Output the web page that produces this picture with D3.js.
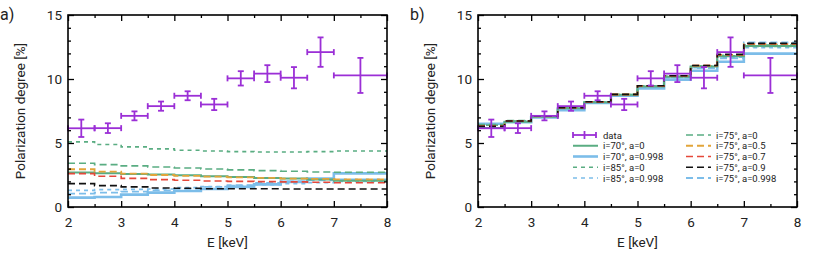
<!DOCTYPE html>
<html><head><meta charset="utf-8">
<script src="https://cdn.jsdelivr.net/npm/d3@7"></script>
<style>body{margin:0;background:#fff}svg{display:block;font-family:Roboto,"Noto Sans",sans-serif}</style>
</head><body><svg id="c" width="817" height="261"></svg>
<script>
const binEdges = [2,2.5,3,3.5,4,4.5,5,5.5,6,6.5,7,8];
const xTicks = [2,3,4,5,6,7,8];
const yTicks = [0,5,10,15];
const dataPD = [6.15,6.16,7.12,7.88,8.69,8.01,10.05,10.42,10.1,12.1,10.28];
const dataErr = [0.68,0.38,0.35,0.36,0.35,0.44,0.56,0.66,0.83,1.15,1.37];
const seriesNames = ["i=70°, a=0","i=70°, a=0.998","i=85°, a=0","i=85°, a=0.998","i=75°, a=0","i=75°, a=0.5","i=75°, a=0.7","i=75°, a=0.9","i=75°, a=0.998"];
// panel a: model polarization (no scattering fit)
const a_i70a0   = [2.69,2.63,2.58,2.53,2.48,2.40,2.35,2.27,2.22,2.14,2.06];
const a_i70a998 = [0.73,0.78,0.97,1.12,1.25,1.41,1.57,1.77,1.96,2.22,2.63];
const a_i85a0   = [5.09,4.88,4.70,4.54,4.43,4.38,4.33,4.30,4.30,4.33,4.37];
const a_i85a998 = [1.30,1.36,1.38,1.41,1.51,1.59,1.67,1.75,1.82,1.90,2.00];
const a_i75a0   = [3.42,3.31,3.21,3.13,3.05,2.97,2.90,2.84,2.79,2.74,2.71];
const a_i75a05  = [2.95,2.77,2.61,2.50,2.43,2.37,2.32,2.27,2.22,2.19,2.16];
const a_i75a07  = [2.61,2.40,2.24,2.14,2.09,2.03,2.00,1.98,1.96,1.93,1.90];
const a_i75a09  = [1.83,1.67,1.57,1.49,1.46,1.43,1.43,1.42,1.41,1.41,1.41];
const a_i75a998 = [1.04,1.12,1.20,1.30,1.41,1.57,1.70,1.88,2.00,2.09,2.15];
// panel b: fitted models
const b_i70a0   = [6.18,6.66,7.05,7.72,8.18,8.77,9.42,10.18,10.97,11.78,12.57];
const b_i70a998 = [6.50,6.62,7.00,7.57,8.12,8.70,9.26,9.95,10.65,11.35,11.98];
const b_i85a0   = [6.40,6.72,7.08,7.75,8.20,8.78,9.44,10.22,11.00,11.85,12.65];
const b_i85a998 = [6.45,6.70,7.05,7.68,8.17,8.75,9.38,10.12,10.88,11.70,12.45];
const b_i75a0   = [6.45,6.75,7.10,7.76,8.21,8.79,9.46,10.23,11.02,11.82,12.55];
const b_i75a05  = [6.33,6.73,7.09,7.76,8.21,8.79,9.46,10.24,11.04,11.88,12.72];
const b_i75a07  = [6.31,6.72,7.09,7.76,8.21,8.79,9.47,10.25,11.05,11.90,12.75];
const b_i75a09  = [6.30,6.72,7.09,7.76,8.22,8.80,9.47,10.25,11.06,11.92,12.78];
const b_i75a998 = [6.47,6.68,7.05,7.66,8.15,8.72,9.35,10.10,10.85,11.62,12.85];

const styles = [
  {c:"#5aad82", w:2, d:null},
  {c:"#7cbde9", w:2.6, d:null},
  {c:"#5aad82", w:1.6, d:"4,4"},
  {c:"#7cbde9", w:1.6, d:"4,4"},
  {c:"#5aad82", w:1.6, d:"7,4"},
  {c:"#e2a53a", w:1.8, d:"7,4"},
  {c:"#e5483a", w:1.6, d:"7,4"},
  {c:"#111111", w:1.6, d:"7,4"},
  {c:"#7cbde9", w:1.8, d:"7,4"}
];
const panelA = [a_i70a0,a_i70a998,a_i85a0,a_i85a998,a_i75a0,a_i75a05,a_i75a07,a_i75a09,a_i75a998];
const panelB = [b_i70a0,b_i70a998,b_i85a0,b_i85a998,b_i75a0,b_i75a05,b_i75a07,b_i75a09,b_i75a998];
const drawOrderA = [1,8,3,0,4,2,5,6,7];
const drawOrderB = [1,8,3,4,0,2,5,6,7];
const purple = "#9b2fd6";

const svg = d3.select("#c");

function panel(x0, label, models, order, legend) {
  const x = d3.scaleLinear().domain([2,8]).range([x0, x0+319]);
  const y = d3.scaleLinear().domain([0,15]).range([207,15]);
  const g = svg.append("g");
  const stepPts = vals => {
    const pts = [];
    vals.forEach((v,i) => { pts.push([binEdges[i], v]); pts.push([binEdges[i+1], v]); });
    return pts;
  };
  const line = d3.line().x(d=>x(d[0])).y(d=>y(d[1]));
  order.forEach(k => {
    const s = styles[k];
    g.append("path").attr("d", line(stepPts(models[k])))
      .attr("fill","none").attr("stroke",s.c).attr("stroke-width",s.w)
      .attr("stroke-dasharray",s.d);
  });
  const dg = g.append("g").attr("stroke",purple).attr("stroke-width",1.8);
  dataPD.forEach((v,i)=>{
    const xa = x(binEdges[i]), xb = x(binEdges[i+1]), xm = (xa+xb)/2;
    dg.append("line").attr("x1",xa).attr("x2",xb).attr("y1",y(v)).attr("y2",y(v));
    dg.append("line").attr("x1",xm).attr("x2",xm).attr("y1",y(v-dataErr[i])).attr("y2",y(v+dataErr[i]));
    [v-dataErr[i], v+dataErr[i]].forEach(e=>dg.append("line").attr("x1",xm-3).attr("x2",xm+3).attr("y1",y(e)).attr("y2",y(e)));
    [xa,xb].forEach(e=>dg.append("line").attr("x1",e).attr("x2",e).attr("y1",y(v)-3).attr("y2",y(v)+3));
  });
  const fmt = d3.format("d");
  g.append("g").attr("transform",`translate(0,207)`)
    .call(d3.axisBottom(x).tickValues(xTicks).tickSize(-6).tickPadding(10).tickFormat(fmt));
  g.append("g").attr("transform",`translate(0,207)`)
    .call(d3.axisBottom(x).tickValues(d3.range(2.5,8,1)).tickSize(-3).tickFormat(""));
  g.append("g").attr("transform",`translate(0,15)`)
    .call(d3.axisTop(x).tickValues(xTicks).tickSize(-6).tickFormat(""));
  g.append("g").attr("transform",`translate(0,15)`)
    .call(d3.axisTop(x).tickValues(d3.range(2.5,8,1)).tickSize(-3).tickFormat(""));
  g.append("g").attr("transform",`translate(${x0},0)`)
    .call(d3.axisLeft(y).tickValues(yTicks).tickSize(-6).tickPadding(6).tickFormat(fmt));
  g.append("g").attr("transform",`translate(${x0},0)`)
    .call(d3.axisLeft(y).tickValues(d3.range(1,15).filter(v=>v%5)).tickSize(-3).tickFormat(""));
  g.append("g").attr("transform",`translate(${x0+319},0)`)
    .call(d3.axisRight(y).tickValues(yTicks).tickSize(-6).tickFormat(""));
  g.append("g").attr("transform",`translate(${x0+319},0)`)
    .call(d3.axisRight(y).tickValues(d3.range(1,15).filter(v=>v%5)).tickSize(-3).tickFormat(""));
  g.selectAll(".domain").remove();
  g.selectAll(".tick line").attr("stroke","#000").attr("stroke-width",1.3);
  g.selectAll(".tick text").attr("font-size",13.5).attr("fill","#222").attr("font-family","Roboto");
  g.append("rect").attr("x",x0).attr("y",15).attr("width",319).attr("height",192)
    .attr("fill","none").attr("stroke","#000").attr("stroke-width",1.6);
  g.append("text").attr("x",x(5)).attr("y",247).attr("text-anchor","middle")
    .attr("font-size",13.5).attr("fill","#222").text("E [keV]");
  g.append("text").attr("transform",`translate(${x0-43},111) rotate(-90)`).attr("text-anchor","middle")
    .attr("font-size",13.5).attr("fill","#222").text("Polarization degree [%]");
  g.append("text").attr("x",x0-68).attr("y",20).attr("font-size",16).attr("fill","#222").text(label);

  if (legend) {
    const lg = g.append("g").attr("font-size",9.5).attr("fill","#222");
    const rowY = i => 135 + i*10.75;
    const ly = rowY(0);
    const la = 573, lb = 596, lm = (la+lb)/2;
    const dl = lg.append("g").attr("stroke",purple).attr("stroke-width",1.8);
    dl.append("line").attr("x1",la).attr("x2",lb).attr("y1",ly).attr("y2",ly);
    dl.append("line").attr("x1",lm).attr("x2",lm).attr("y1",ly-4).attr("y2",ly+4);
    [la,lb].forEach(e=>dl.append("line").attr("x1",e).attr("x2",e).attr("y1",ly-3).attr("y2",ly+3));
    lg.append("text").attr("x",603).attr("y",ly+3.5).text("data");
    seriesNames.forEach((n,k)=>{
      const col = k<4 ? 0 : 1;
      const row = k<4 ? k+1 : k-4;
      const xs = col ? 686 : 573, xt = col ? 716 : 603;
      const yy = rowY(row);
      const s = styles[k];
      lg.append("line").attr("x1",xs).attr("x2",xs+25).attr("y1",yy).attr("y2",yy)
        .attr("stroke",s.c).attr("stroke-width",s.w).attr("stroke-dasharray",s.d);
      lg.append("text").attr("x",xt).attr("y",yy+3.5).text(n);
    });
  }
}
panel(68, "a)", panelA, drawOrderA, false);
panel(478, "b)", panelB, drawOrderB, true);
</script></body></html>
